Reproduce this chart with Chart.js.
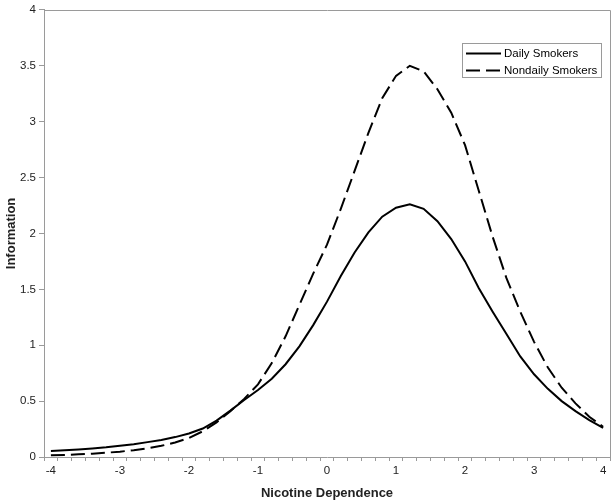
<!DOCTYPE html>
<html>
<head>
<meta charset="utf-8">
<script src="https://cdn.jsdelivr.net/npm/chart.js@4/dist/chart.umd.min.js"></script>
<style>
  html, body { margin: 0; padding: 0; background: #fff; }
  #wrap { width: 615px; height: 503px; position: relative; }
</style>
</head>
<body>
<div id="wrap"><canvas id="c" width="615" height="503"></canvas></div>
<script>
// ---- data ----
const xValues = [-4, -3.8, -3.6, -3.4, -3.2, -3, -2.8, -2.6, -2.4, -2.2, -2, -1.8, -1.6, -1.4, -1.2, -1, -0.8, -0.6, -0.4, -0.2, 0,
  0.2, 0.4, 0.6, 0.8, 1, 1.2, 1.4, 1.6, 1.8, 2, 2.2, 2.4, 2.6, 2.8, 3, 3.2, 3.4, 3.6, 3.8, 4];
const dailySmokers = [0.054, 0.061, 0.068, 0.077, 0.087, 0.1, 0.115, 0.133, 0.153, 0.178, 0.21, 0.255, 0.325, 0.415, 0.51,
  0.6, 0.7, 0.83, 0.99, 1.18, 1.39, 1.62, 1.83, 2.01, 2.15, 2.23, 2.26, 2.22, 2.11, 1.95, 1.75, 1.51, 1.3, 1.1, 0.9,
  0.74, 0.61, 0.5, 0.41, 0.33, 0.26];
const nondailySmokers = [0.015, 0.019, 0.024, 0.03, 0.038, 0.048, 0.061, 0.078, 0.1, 0.13, 0.17, 0.23, 0.31, 0.41, 0.52,
  0.65, 0.84, 1.08, 1.36, 1.64, 1.9, 2.22, 2.56, 2.9, 3.21, 3.41, 3.5, 3.45, 3.29, 3.08, 2.79, 2.38, 1.97, 1.6, 1.3,
  1.03, 0.8, 0.62, 0.48, 0.36, 0.27];
const seriesNames = ['Daily Smokers', 'Nondaily Smokers'];
const yTicks = [0, 0.5, 1, 1.5, 2, 2.5, 3, 3.5, 4];
const xTitle = 'Nicotine Dependence';
const yTitle = 'Information';

const AXIS = '#9a9a9a';
const FONT = '"Liberation Sans", Arial, sans-serif';
const DASH = [14, 6];

const frameAndLegend = {
  id: 'frameAndLegend',
  beforeDatasetsDraw(chart) {
    const { ctx, chartArea: a } = chart;
    ctx.save();
    ctx.strokeStyle = AXIS;
    ctx.lineWidth = 1;
    ctx.beginPath();
    ctx.moveTo(Math.round(a.left) + 0.5, Math.round(a.top) + 0.5);
    ctx.lineTo(Math.round(a.right) + 0.5, Math.round(a.top) + 0.5);
    ctx.lineTo(Math.round(a.right) + 0.5, Math.round(a.bottom) + 0.5);
    ctx.stroke();
    ctx.restore();
  },
  afterDatasetsDraw(chart) {
    const { ctx } = chart;
    const bx = 462.5, by = 43.5, bw = 139, bh = 34;
    ctx.save();
    ctx.fillStyle = '#fff';
    ctx.fillRect(bx, by, bw, bh);
    ctx.strokeStyle = AXIS;
    ctx.lineWidth = 1;
    ctx.strokeRect(bx, by, bw, bh);
    ctx.font = '11.5px ' + FONT;
    ctx.textBaseline = 'middle';
    ctx.fillStyle = '#000';
    chart.data.datasets.forEach((ds, i) => {
      const y = 53.5 + i * 17;
      ctx.strokeStyle = '#000';
      ctx.lineWidth = 2;
      ctx.setLineDash(ds.borderDash || []);
      ctx.beginPath();
      ctx.moveTo(466, y);
      ctx.lineTo(501, y);
      ctx.stroke();
      ctx.setLineDash([]);
      ctx.fillText(ds.label, 504, y);
    });
    ctx.restore();
  }
};

new Chart(document.getElementById('c'), {
  type: 'line',
  data: {
    labels: xValues.map(String),
    datasets: [
      { label: seriesNames[0], data: dailySmokers, borderColor: '#000', borderWidth: 2, pointRadius: 0, tension: 0, fill: false },
      { label: seriesNames[1], data: nondailySmokers, borderColor: '#000', borderWidth: 2, borderDash: DASH, pointRadius: 0, tension: 0, fill: false }
    ]
  },
  options: {
    responsive: false,
    animation: false,
    layout: { padding: { top: 8, right: 5, left: 0, bottom: 0 } },
    plugins: { legend: { display: false }, tooltip: { enabled: false } },
    scales: {
      x: {
        type: 'category',
        offset: true,
        grid: { offset: true, drawOnChartArea: false, drawTicks: true, tickLength: 4, color: AXIS },
        border: { color: AXIS, width: 1 },
        ticks: {
          autoSkip: false, maxRotation: 0, minRotation: 0, padding: 3,
          color: '#222', font: { family: FONT, size: 11.5 },
          callback: function (v, i) { const x = xValues[i]; return Number.isInteger(x) ? String(x) : ''; }
        },
        title: { display: true, text: xTitle, color: '#222', font: { family: FONT, size: 13, weight: 'bold' }, padding: { top: 4, bottom: 2 } },
        afterFit: (s) => { s.height = 46; }
      },
      y: {
        min: 0, max: 4,
        afterBuildTicks: (s) => { s.ticks = yTicks.map(v => ({ value: v })); },
        grid: { drawOnChartArea: false, drawTicks: true, tickLength: 5, color: AXIS },
        border: { color: AXIS, width: 1 },
        ticks: { padding: 3, color: '#222', font: { family: FONT, size: 11.5 }, callback: (v) => String(v) },
        title: { display: true, text: yTitle, color: '#222', font: { family: FONT, size: 13, weight: 'bold' }, padding: { top: 4, bottom: 4 } },
        afterFit: (s) => { s.width = 44; }
      }
    }
  },
  plugins: [frameAndLegend]
});
</script>
</body>
</html>
